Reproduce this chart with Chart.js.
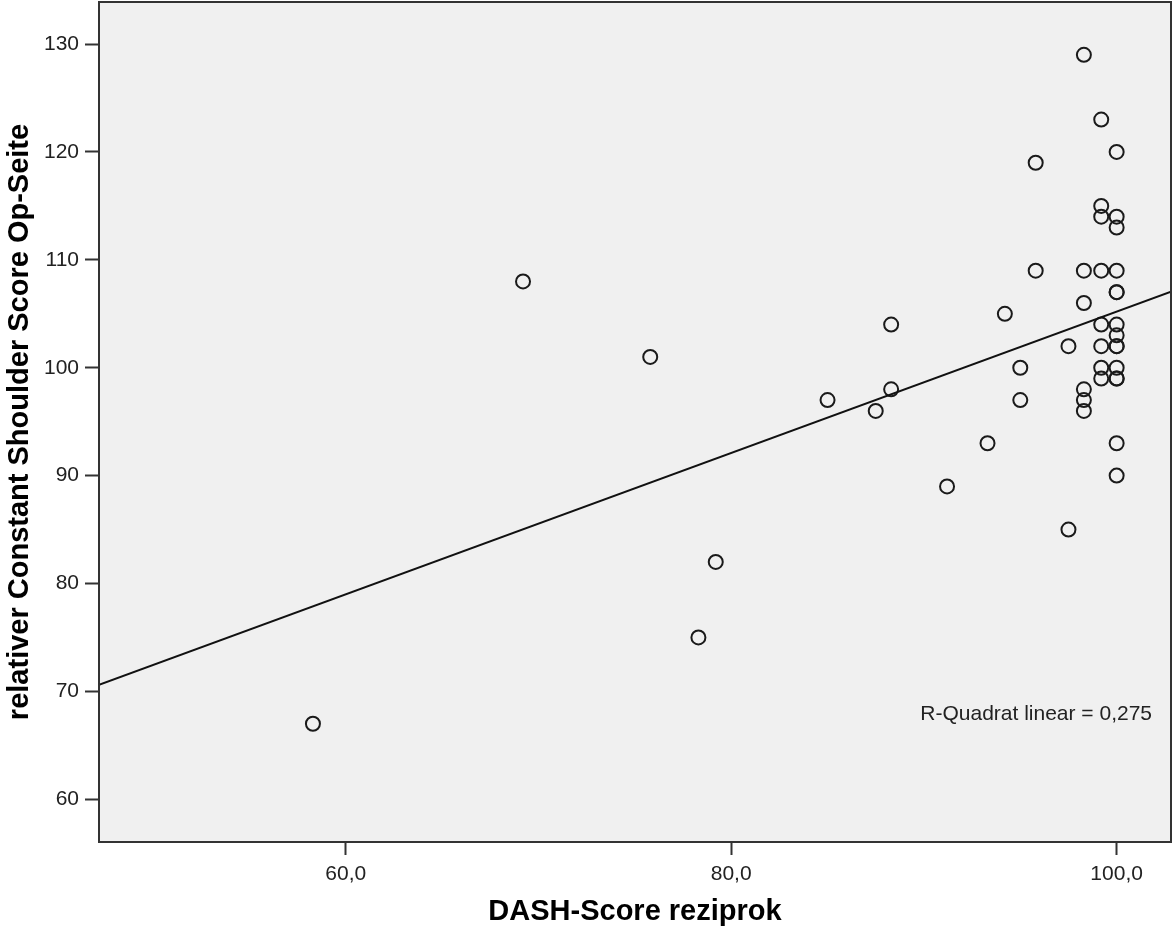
<!DOCTYPE html>
<html>
<head>
<meta charset="utf-8">
<title>DASH-Score reziprok</title>
<script src="https://cdn.jsdelivr.net/npm/chart.js@4.4.1/dist/chart.umd.min.js"></script>
<style>
    body { margin: 0; background: #ffffff; }
    #wrap { width: 1173px; height: 929px; position: relative; }
</style>
</head>
<body>
<div id="wrap"><canvas id="grafikStreu"></canvas></div>
<script>
/* =========================================================
    DATEN
========================================================= */

// DASH-Score reziprok je Patient
const dashScore = [
    58.3, 69.2, 75.8, 78.3, 79.2, 85.0, 87.5, 88.3, 88.3, 91.2,
    93.3, 94.2, 95.0, 95.0, 95.8, 95.8, 97.5, 97.5,
    98.3, 98.3, 98.3, 98.3, 98.3, 98.3,
    99.2, 99.2, 99.2, 99.2, 99.2, 99.2, 99.2, 99.2,
    100, 100, 100, 100, 100, 100, 100, 100, 100, 100, 100, 100, 100, 100, 100
];

// relativer Constant Shoulder Score Op-Seite, gleiche Reihenfolge
const constantScore = [
    67, 108, 101, 75, 82, 97, 96, 104, 98, 89,
    93, 105, 100, 97, 119, 109, 102, 85,
    129, 109, 106, 98, 97, 96,
    123, 115, 114, 109, 104, 102, 100, 99,
    120, 114, 113, 109, 107, 107, 104, 103, 102, 102, 100, 99, 99, 93, 90
];

// Regressionsgerade, Endpunkte am Rand
const fitX = [47.2, 102.82];
const fitY = [70.62, 107.04];
const rQuadrat = 0.275;

// Achsen
const xRange = [47.2, 102.82];
const yRange = [56.04, 133.9];
const xTicks = [60, 80, 100];
const yTicks = [60, 70, 80, 90, 100, 110, 120, 130];

const komma = (v, d) => v.toFixed(d).replace(".", ",");

/* =========================================================
    PLUGIN: Hintergrund, Rahmen, R-Quadrat
========================================================= */
const rahmen = {
    id: "rahmen",
    beforeDraw(chart) {
        const { ctx, chartArea: a } = chart;
        ctx.save();
        ctx.fillStyle = "#f0f0f0";
        ctx.fillRect(a.left, a.top, a.width, a.height);
        ctx.restore();
    },
    afterDraw(chart) {
        const { ctx, chartArea: a } = chart;
        ctx.save();
        ctx.strokeStyle = "#333333";
        ctx.lineWidth = 2;
        ctx.strokeRect(a.left, a.top, a.width, a.height);

        ctx.fillStyle = "#222222";
        ctx.font = "21px 'Liberation Sans', Arial, sans-serif";
        ctx.textAlign = "right";
        ctx.textBaseline = "middle";
        ctx.fillText("R-Quadrat linear = " + komma(rQuadrat, 3), a.right - 19, 714);
        ctx.restore();
    }
};

/* =========================================================
    GRAFIK
========================================================= */
Chart.defaults.font.family = "'Liberation Sans', Arial, sans-serif";
Chart.defaults.color = "#222222";

new Chart(document.getElementById("grafikStreu"), {
    type: "scatter",
    data: {
        datasets: [
            {
                type: "line",
                label: "Linear",
                data: fitX.map((x, i) => ({ x: x, y: fitY[i] })),
                borderColor: "#111111",
                borderWidth: 2,
                pointRadius: 0,
                fill: false
            },
            {
                label: "Patienten",
                data: dashScore.map((x, i) => ({ x: x, y: constantScore[i] })),
                pointStyle: "circle",
                pointRadius: 7,
                borderWidth: 2,
                borderColor: "#1a1a1a",
                backgroundColor: "rgba(0,0,0,0)"
            }
        ]
    },
    options: {
        responsive: true,
        maintainAspectRatio: false,
        animation: false,
        layout: {
            autoPadding: false,
            padding: { top: 2, right: 2, left: 0, bottom: 0 }
        },
        plugins: {
            legend: { display: false },
            tooltip: { enabled: false }
        },
        scales: {
            x: {
                type: "linear",
                min: xRange[0],
                max: xRange[1],
                afterBuildTicks: s => { s.ticks = xTicks.map(v => ({ value: v })); },
                afterFit: s => {
                    s.height = 87;
                    s.paddingLeft = 0;
                    s.paddingRight = 0;
                },
                border: { display: false },
                grid: {
                    drawOnChartArea: false,
                    tickLength: 13,
                    tickColor: "#333333",
                    tickWidth: 2
                },
                ticks: {
                    padding: 7,
                    font: { size: 21 },
                    callback: v => komma(v, 1)
                },
                title: {
                    display: true,
                    text: "DASH-Score reziprok",
                    color: "#000000",
                    font: { size: 29, weight: "bold" },
                    padding: { top: 0, bottom: 0 }
                }
            },
            y: {
                type: "linear",
                min: yRange[0],
                max: yRange[1],
                afterBuildTicks: s => { s.ticks = yTicks.map(v => ({ value: v })); },
                afterFit: s => {
                    s.width = 99;
                    s.paddingTop = 0;
                    s.paddingBottom = 0;
                },
                border: { display: false },
                grid: {
                    drawOnChartArea: false,
                    tickLength: 14,
                    tickColor: "#333333",
                    tickWidth: 2
                },
                ticks: {
                    padding: 6,
                    font: { size: 21 },
                    callback: v => String(v)
                },
                title: {
                    display: true,
                    text: "relativer Constant Shoulder Score Op-Seite",
                    color: "#000000",
                    font: { size: 29, weight: "bold" },
                    padding: { top: 3, bottom: 0 }
                }
            }
        }
    },
    plugins: [rahmen]
});
</script>
</body>
</html>
